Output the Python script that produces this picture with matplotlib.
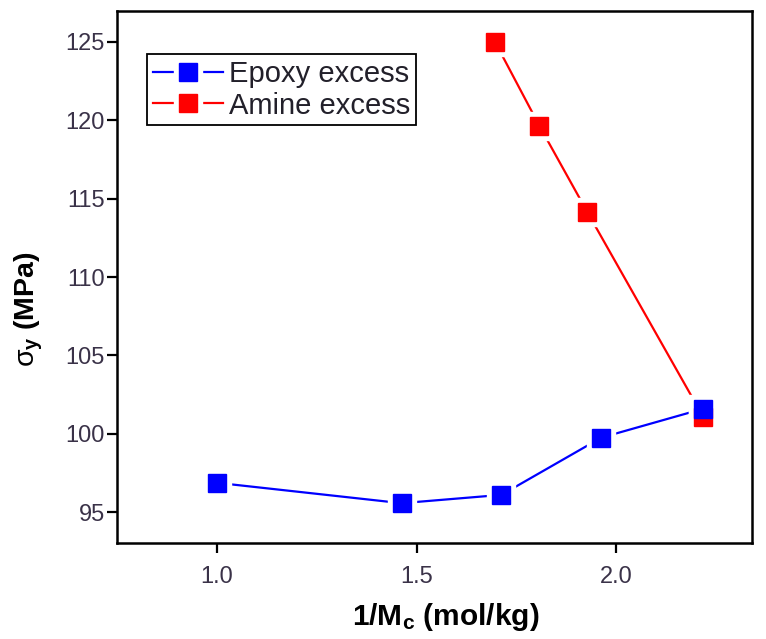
import matplotlib
matplotlib.use('Agg')
import matplotlib.pyplot as plt
from matplotlib.legend_handler import HandlerTuple

plt.rcParams['font.family'] = ['Liberation Sans', 'DejaVu Sans']
plt.rcParams['mathtext.fontset'] = 'custom'
plt.rcParams['mathtext.rm'] = 'Liberation Sans'
plt.rcParams['mathtext.it'] = 'Liberation Sans'
plt.rcParams['mathtext.bf'] = 'Liberation Sans:bold'

# data
epoxy_x = [1.0, 1.462, 1.712, 1.962, 2.218]
epoxy_y = [96.87, 95.57, 96.1, 99.75, 101.6]
amine_x = [1.696, 1.807, 1.927, 2.218]
amine_y = [125.0, 119.65, 114.15, 101.05]

xticks = [1.0, 1.5, 2.0]
yticks = [95, 100, 105, 110, 115, 120, 125]

tick_col = '#3a3248'

fig = plt.figure(figsize=(7.66, 6.39), dpi=100)
ax = fig.add_axes([0.153, 0.1495, 0.829, 0.834])

handles = []
for xs, ys, c, z in [(epoxy_x, epoxy_y, 'blue', 3.1), (amine_x, amine_y, 'red', 3.0)]:
    ln, = ax.plot(xs, ys, color=c, lw=1.6, zorder=1)
    # white halo gives the gap between line and marker
    halo, = ax.plot(xs, ys, ls='none', marker='s', ms=20, color='white', mec='white', zorder=2)
    mk, = ax.plot(xs, ys, ls='none', marker='s', ms=13, color=c, mec=c, zorder=z)
    handles.append((ln, halo, mk))

ax.set_xlim(0.75, 2.34)
ax.set_ylim(93, 127)
ax.set_xticks(xticks)
ax.set_yticks(yticks)
ax.set_xticklabels(['%.1f' % t for t in xticks])
ax.tick_params(direction='out', length=7, width=1.6, labelsize=17,
               labelcolor=tick_col, color='black')
ax.tick_params(axis='y', pad=2)
ax.tick_params(axis='x', pad=9)
for s in ax.spines.values():
    s.set_linewidth(1.8)
    s.set_color('black')

ax.set_xlabel(r'1/M$_\mathregular{c}$ (mol/kg)', fontsize=21.5, fontweight='bold')
ax.set_ylabel(r'$\sigma_\mathregular{y}$ (MPa)', fontsize=20.5, fontweight='bold')
ax.xaxis.set_label_coords(0.517, -0.108)
ax.yaxis.set_label_coords(-0.113, 0.44)

leg = ax.legend(handles, ['Epoxy excess', 'Amine excess'],
                handler_map={tuple: HandlerTuple(ndivide=1, pad=0)},
                loc='upper left', bbox_to_anchor=(0.047, 0.918), borderaxespad=0,
                fontsize=21, handlelength=2.4, handletextpad=0.2, labelspacing=0.12,
                borderpad=0.2, fancybox=False, framealpha=1, edgecolor='black')
leg.get_frame().set_linewidth(1.3)
for t in leg.get_texts():
    t.set_color('#22202a')

fig.savefig('out.png', dpi=100)
